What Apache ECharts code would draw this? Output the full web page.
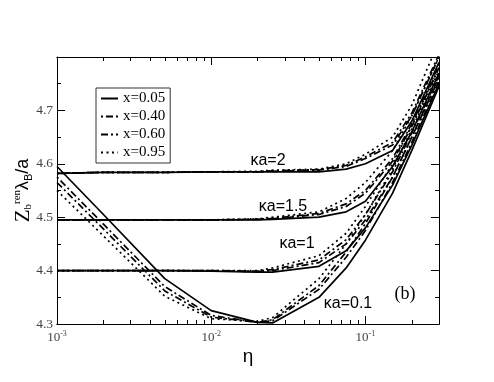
<!DOCTYPE html>
<html>
<head>
<meta charset="utf-8">
<script src="https://cdn.jsdelivr.net/npm/echarts@6/dist/echarts.min.js"></script>
<style>
  html, body { margin: 0; padding: 0; background: #fff; }
  #chart { width: 494px; height: 382px; }
</style>
</head>
<body>
<div id="chart"></div>
<script>
// η values shared by every curve
const eta = [0.001, 0.002, 0.005, 0.01, 0.02, 0.025, 0.05, 0.075, 0.1, 0.15, 0.2, 0.3]

// κa = 0.1
const ka01_x05 = [4.595, 4.505, 4.385, 4.325, 4.303, 4.302, 4.350, 4.405, 4.457, 4.545, 4.625, 4.745]
const ka01_x40 = [4.575, 4.487, 4.370, 4.316, 4.303, 4.306, 4.365, 4.425, 4.475, 4.565, 4.640, 4.755]
const ka01_x60 = [4.565, 4.478, 4.362, 4.313, 4.303, 4.308, 4.372, 4.435, 4.488, 4.575, 4.650, 4.762]
const ka01_x95 = [4.550, 4.465, 4.352, 4.310, 4.305, 4.312, 4.385, 4.450, 4.505, 4.590, 4.665, 4.775]
// κa = 1
const ka1_x05 = [4.400, 4.400, 4.400, 4.399, 4.397, 4.397, 4.408, 4.437, 4.480, 4.560, 4.635, 4.750]
const ka1_x40 = [4.400, 4.400, 4.400, 4.400, 4.398, 4.400, 4.415, 4.450, 4.495, 4.575, 4.650, 4.760]
const ka1_x60 = [4.400, 4.400, 4.400, 4.400, 4.399, 4.402, 4.420, 4.458, 4.505, 4.585, 4.658, 4.765]
const ka1_x95 = [4.400, 4.400, 4.400, 4.400, 4.400, 4.405, 4.428, 4.470, 4.520, 4.600, 4.672, 4.780]
// κa = 1.5
const ka15_x05 = [4.495, 4.495, 4.495, 4.495, 4.495, 4.496, 4.500, 4.510, 4.530, 4.595, 4.660, 4.770]
const ka15_x40 = [4.495, 4.495, 4.495, 4.495, 4.496, 4.497, 4.505, 4.520, 4.545, 4.605, 4.670, 4.780]
const ka15_x60 = [4.495, 4.495, 4.495, 4.495, 4.496, 4.498, 4.507, 4.525, 4.550, 4.610, 4.675, 4.785]
const ka15_x95 = [4.495, 4.495, 4.495, 4.495, 4.497, 4.500, 4.510, 4.535, 4.565, 4.625, 4.690, 4.800]
// κa = 2
const ka2_x05 = [4.582, 4.584, 4.584, 4.585, 4.585, 4.585, 4.585, 4.590, 4.600, 4.625, 4.680, 4.790]
const ka2_x40 = [4.582, 4.584, 4.584, 4.585, 4.585, 4.586, 4.588, 4.595, 4.610, 4.635, 4.690, 4.800]
const ka2_x60 = [4.582, 4.584, 4.584, 4.585, 4.585, 4.587, 4.589, 4.597, 4.613, 4.640, 4.695, 4.805]
const ka2_x95 = [4.582, 4.584, 4.584, 4.585, 4.586, 4.588, 4.590, 4.600, 4.618, 4.650, 4.710, 4.830]

const legendNames = ['x=0.05', 'x=0.40', 'x=0.60', 'x=0.95']
const majorTicks = [0.001, 0.01, 0.1]
const minorTicks = [0.002, 0.003, 0.004, 0.005, 0.006, 0.007, 0.008, 0.009,
  0.02, 0.03, 0.04, 0.05, 0.06, 0.07, 0.08, 0.09, 0.2, 0.3]

const groups = [
  [ka01_x05, ka01_x40, ka01_x60, ka01_x95],
  [ka1_x05, ka1_x40, ka1_x60, ka1_x95],
  [ka15_x05, ka15_x40, ka15_x60, ka15_x95],
  [ka2_x05, ka2_x40, ka2_x60, ka2_x95]
]

// line look per x value
const dashes = ['solid', [2, 3, 7, 3], [7, 3, 2, 3], [2, 3.5]]

const serif = '"Liberation Serif", "DejaVu Serif", serif'
const sans = '"Liberation Sans", "DejaVu Sans", sans-serif'

const series = []
groups.forEach(group => {
  group.forEach((vals, i) => {
    series.push({
      name: legendNames[i],
      type: 'line',
      xAxisIndex: 0,
      yAxisIndex: 0,
      symbol: 'none',
      animation: false,
      color: '#000',
      data: eta.map((e, k) => [e, vals[k]]),
      lineStyle: { color: '#000', width: 1.7, type: dashes[i] }
    })
  })
})

const expLabel = v => {
  const p = Math.round(Math.log10(v))
  return '{b|10}{s|' + p + '}'
}

const xBase = (position, ticks, len, withLabels) => ({
  type: 'log',
  logBase: 10,
  position: position,
  min: 0.001,
  max: 0.3,
  axisLine: { show: true, onZero: false, lineStyle: { color: '#000', width: 1 } },
  axisTick: { show: true, inside: true, length: len, customValues: ticks, lineStyle: { color: '#000' } },
  axisLabel: withLabels ? {
    show: true,
    customValues: majorTicks,
    margin: 6,
    formatter: expLabel,
    rich: {
      b: { fontFamily: serif, fontSize: 13, color: '#444' },
      s: { fontFamily: serif, fontSize: 8, color: '#444', verticalAlign: 'top', padding: [0, 0, 7, 0] }
    }
  } : { show: false },
  splitLine: { show: false },
  minorTick: { show: false }
})

const yBase = (position, withLabels) => ({
  type: 'value',
  position: position,
  min: 4.3,
  max: 4.8,
  interval: 0.1,
  axisLine: { show: true, lineStyle: { color: '#000', width: 1 } },
  axisTick: { show: true, inside: true, length: 8, lineStyle: { color: '#000' } },
  minorTick: { show: true, splitNumber: 2, length: 4, lineStyle: { color: '#000' } },
  axisLabel: withLabels ? {
    show: true,
    margin: 4,
    showMaxLabel: false,
    fontFamily: serif,
    fontSize: 13.5,
    color: '#444',
    formatter: v => v.toFixed(1)
  } : { show: false },
  splitLine: { show: false }
})

const xMain = xBase('bottom', majorTicks, 8, true)
xMain.name = 'η'
xMain.nameLocation = 'middle'
xMain.nameGap = 23
xMain.nameMoveOverlap = false
xMain.nameTextStyle = { fontFamily: sans, fontSize: 19, color: '#000' }

const yMain = yBase('left', true)
yMain.name = '{z|Z}{b|b}{r|ren}{l|λ}{B|B}{a|/a}'
yMain.nameLocation = 'middle'
yMain.nameRotate = 90
yMain.nameGap = 23
yMain.nameMoveOverlap = false
yMain.nameTextStyle = {
  color: '#000',
  rich: {
    z: { fontFamily: serif, fontSize: 21, lineHeight: 22 },
    b: { fontFamily: serif, fontSize: 11, verticalAlign: 'bottom', lineHeight: 11 },
    r: { fontFamily: serif, fontSize: 11, verticalAlign: 'top', lineHeight: 11 },
    l: { fontFamily: sans, fontSize: 18, lineHeight: 22 },
    B: { fontFamily: sans, fontSize: 11, verticalAlign: 'bottom', lineHeight: 11 },
    a: { fontFamily: sans, fontSize: 18, lineHeight: 22 }
  }
}

const chart = echarts.init(document.getElementById('chart'), null, { renderer: 'canvas' })

chart.setOption({
  animation: false,
  backgroundColor: '#fff',
  grid: { left: 57, top: 57, width: 382, height: 267, containLabel: false, outerBoundsMode: 'none' },
  legend: {
    data: legendNames,
    orient: 'vertical',
    left: 96,
    top: 88,
    padding: [3, 5, 3, 4],
    itemGap: 3,
    itemWidth: 17,
    itemHeight: 12,
    borderColor: '#333',
    borderWidth: 1,
    selectedMode: false,
    itemStyle: { opacity: 0 },
    textStyle: { fontFamily: serif, fontSize: 15, lineHeight: 12, color: '#000' }
  },
  xAxis: [
    xBase('bottom', minorTicks, 4, false),
    xMain,
    xBase('top', minorTicks, 4, false),
    xBase('top', majorTicks, 8, false)
  ],
  yAxis: [yMain, yBase('right', false)],
  series: series,
  graphic: [
    { type: 'text', x: 268, y: 161, style: { text: 'κa=2', fontFamily: sans, fontSize: 16, fill: '#000', align: 'center', verticalAlign: 'middle' } },
    { type: 'text', x: 283, y: 207, style: { text: 'κa=1.5', fontFamily: sans, fontSize: 16, fill: '#000', align: 'center', verticalAlign: 'middle' } },
    { type: 'text', x: 297, y: 244, style: { text: 'κa=1', fontFamily: sans, fontSize: 16, fill: '#000', align: 'center', verticalAlign: 'middle' } },
    { type: 'text', x: 348, y: 304, style: { text: 'κa=0.1', fontFamily: sans, fontSize: 16, fill: '#000', align: 'center', verticalAlign: 'middle' } },
    { type: 'text', x: 405, y: 294, style: { text: '(b)', fontFamily: serif, fontSize: 18, fill: '#000', align: 'center', verticalAlign: 'middle' } }
  ]
})
</script>
</body>
</html>
